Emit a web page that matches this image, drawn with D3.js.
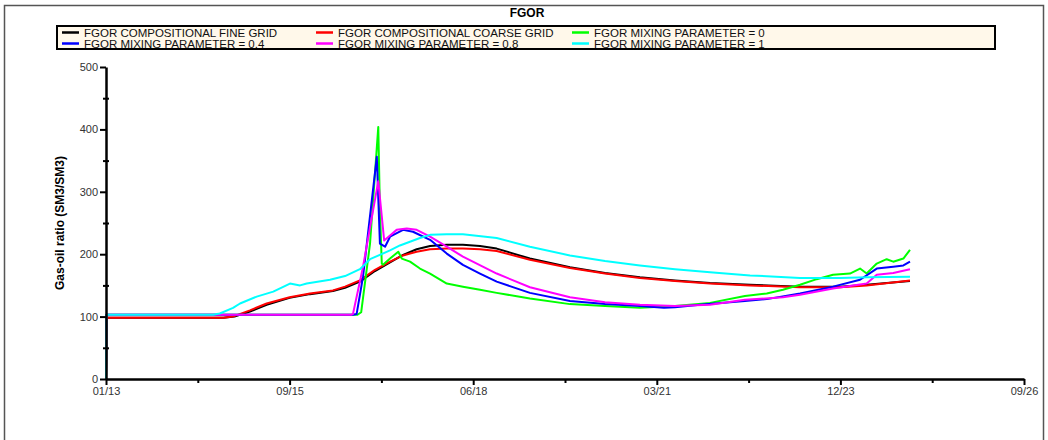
<!DOCTYPE html>
<html>
<head>
<meta charset="UTF-8">
<title>FGOR</title>
<script src="https://cdnjs.cloudflare.com/ajax/libs/d3/7.8.5/d3.min.js"></script>
<style>
  body { margin: 0; background: #fff; }
  text { font-family: "Liberation Sans", Arial, sans-serif; }
</style>
</head>
<body>
<svg width="1048" height="440"></svg>
<script>
// days since 01/01/2013 , gas-oil ratio
var fineGrid = [[0,0],[2,98],[640,98],[700,100],[784,108],[875,119],[1000,130],[1111,136],[1236,141],[1302,146],[1383,156],[1465,173],[1547,187],[1618,199],[1692,208],[1765,213],[1856,215],[1944,215],[2037,213],[2128,209],[2309,193],[2527,179],[2718,170],[2908,163],[3099,158],[3290,154],[3508,151],[3780,148],[3998,148],[4143,151],[4379,157]];
var coarseGrid = [[0,0],[2,98],[640,98],[690,100],[784,110],[875,121],[1000,131],[1111,137],[1236,142],[1302,148],[1383,158],[1465,175],[1547,188],[1618,198],[1692,204],[1765,208],[1856,209],[1944,209],[2037,208],[2128,205],[2309,191],[2527,178],[2718,169],[2908,162],[3099,157],[3290,153],[3508,150],[3780,147],[3998,147],[4143,150],[4379,158]];
var mix0 = [[0,0],[2,103],[1370,103],[1390,107],[1438,217],[1483,404],[1492,271],[1502,185],[1509,183],[1547,193],[1592,204],[1611,193],[1656,188],[1710,177],[1765,169],[1856,153],[1944,148],[2037,143],[2128,138],[2309,129],[2527,120],[2718,117],[2908,114],[3099,117],[3290,122],[3480,133],[3599,137],[3687,143],[3780,151],[3871,160],[3960,167],[4052,169],[4107,177],[4143,169],[4198,185],[4252,192],[4288,188],[4343,193],[4379,207]];
var mix04 = [[0,0],[2,103],[1345,103],[1365,104],[1400,164],[1475,356],[1492,217],[1520,212],[1547,228],[1618,239],[1672,236],[1765,223],[1856,201],[1944,183],[2037,169],[2128,156],[2309,138],[2527,125],[2718,120],[2908,117],[3039,114],[3099,115],[3235,119],[3480,125],[3599,128],[3780,137],[3960,148],[4107,159],[4198,177],[4288,180],[4343,182],[4379,188]];
var mix08 = [[0,0],[2,103],[1335,103],[1345,104],[1400,180],[1483,317],[1515,222],[1547,230],[1583,239],[1638,241],[1692,239],[1765,228],[1856,212],[1944,196],[2128,169],[2309,147],[2527,131],[2718,123],[2908,119],[3099,117],[3290,119],[3480,127],[3687,131],[3780,135],[3960,145],[4143,153],[4198,167],[4288,170],[4379,176]];
var mix1 = [[0,0],[2,103],[583,103],[620,105],[692,114],[730,121],[821,132],[911,140],[1002,153],[1057,150],[1093,153],[1220,159],[1302,165],[1383,176],[1438,192],[1547,206],[1601,214],[1710,226],[1765,231],[1856,232],[1944,232],[2128,226],[2309,212],[2527,198],[2718,189],[2908,182],[3099,176],[3290,171],[3508,166],[3780,162],[3998,162],[4143,163],[4379,164]];

var seriesNames = ["FGOR COMPOSITIONAL FINE GRID", "FGOR COMPOSITIONAL COARSE GRID", "FGOR MIXING PARAMETER = 0",
                   "FGOR MIXING PARAMETER = 0.4", "FGOR MIXING PARAMETER = 0.8", "FGOR MIXING PARAMETER = 1"];
var seriesData = [fineGrid, coarseGrid, mix0, mix04, mix08, mix1];
var seriesColors = ["#000000", "#ff0000", "#00ff00", "#0000ff", "#ff00ff", "#00ffff"];

var xTicks = [0, 1000, 2000, 3000, 4000, 5000];
var xMinor = [500, 1500, 2500, 3500, 4500];
var yTicks = [0, 100, 200, 300, 400, 500];
var yMinor = [50, 150, 250, 350, 450];
var startDate = new Date(2013, 0, 1);

var svg = d3.select("svg");

// outer frame
svg.append("rect")
    .attr("x", 4.5).attr("y", 5.5)
    .attr("width", 1039).attr("height", 445)
    .attr("fill", "none").attr("stroke", "#555").attr("stroke-width", 1.5);

var x = d3.scaleLinear().domain([0, 5000]).range([106, 1024]);
var y = d3.scaleLinear().domain([0, 500]).range([379, 67]);

var fmt = d3.timeFormat("%m/%y");

// lines
var line = d3.line()
    .x(function(d) { return x(d[0]); })
    .y(function(d) { return y(d[1]); });

svg.append("g").selectAll("path")
    .data(seriesData)
    .enter().append("path")
    .attr("d", line)
    .attr("fill", "none")
    .attr("stroke", function(d, i) { return seriesColors[i]; })
    .attr("stroke-width", 2)
    .attr("stroke-linejoin", "round");

// y axis
svg.append("g")
    .attr("transform", "translate(106,0)")
    .call(d3.axisLeft(y).tickValues(yTicks).tickSize(6).tickPadding(2).tickSizeOuter(0));
svg.append("g")
    .attr("transform", "translate(109,0)")
    .call(d3.axisLeft(y).tickValues(yMinor).tickSize(6).tickFormat("").tickSizeOuter(0))
    .call(function(g) { g.select(".domain").remove(); });

// x axis
svg.append("g")
    .attr("transform", "translate(0,379)")
    .call(d3.axisBottom(x).tickValues(xTicks).tickSize(6).tickPadding(2).tickSizeOuter(0)
        .tickFormat(function(d) { return fmt(d3.timeDay.offset(startDate, d)); }));
svg.append("g")
    .attr("transform", "translate(0,379)")
    .call(d3.axisBottom(x).tickValues(xMinor).tickSize(4).tickFormat("").tickSizeOuter(0))
    .call(function(g) { g.select(".domain").remove(); });

svg.selectAll(".domain").attr("stroke", "#000").attr("stroke-width", 2.5);
svg.selectAll(".tick line").attr("stroke", "#000").attr("stroke-width", 2);
svg.selectAll(".tick text")
    .attr("fill", "#333")
    .style("font-family", "'Liberation Sans', Arial, sans-serif")
    .style("font-size", "11px");

// y label
svg.append("text")
    .attr("transform", "translate(64,223) rotate(-90)")
    .attr("text-anchor", "middle")
    .style("font-size", "12px")
    .style("font-weight", "bold")
    .text("Gas-oil ratio (SM3/SM3)");

// title
svg.append("text")
    .attr("x", 527).attr("y", 17)
    .attr("text-anchor", "middle")
    .style("font-size", "12px")
    .style("font-weight", "bold")
    .text("FGOR");

// legend
svg.append("rect")
    .attr("x", 57).attr("y", 26)
    .attr("width", 938).attr("height", 23)
    .attr("fill", "#fff8ea").attr("stroke", "#000").attr("stroke-width", 2);

var colX = [62, 316, 572];
var rowY = [32.5, 43.5];
var legend = svg.append("g").selectAll("g")
    .data(seriesNames)
    .enter().append("g")
    .attr("transform", function(d, i) { return "translate(" + colX[i % 3] + "," + rowY[Math.floor(i / 3)] + ")"; });
legend.append("line")
    .attr("x1", 0).attr("x2", 17)
    .attr("stroke", function(d, i) { return seriesColors[i]; })
    .attr("stroke-width", 2.5);
legend.append("text")
    .attr("x", 22).attr("y", 4)
    .style("font-size", "11.5px")
    .attr("fill", "#111")
    .text(function(d) { return d; });
</script>
</body>
</html>
